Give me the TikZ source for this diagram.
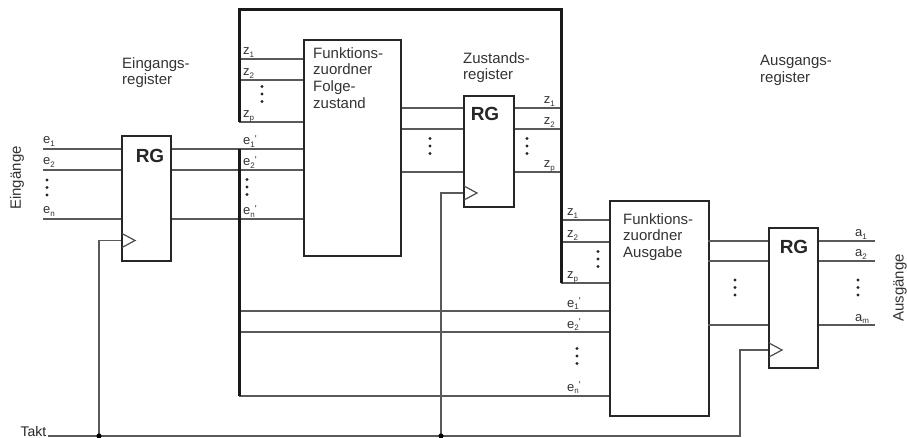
\documentclass[tikz,border=0pt]{standalone}
\usepackage{fontspec}
\setmainfont{Liberation Sans}
\newcommand\sg[2]{#1\raisebox{-2.5pt}{\fontsize{8}{8}\selectfont #2}}
\newcommand\sgp[2]{#1\raisebox{-2.5pt}{\fontsize{8}{8}\selectfont #2}\raisebox{2.5pt}{\fontsize{10}{10}\selectfont\textquotesingle}}
\tikzset{
  box/.style={draw=black!85, line width=2pt, inner sep=0pt, anchor=north west},
  wire/.style={draw=black!65, line width=1.5pt},
  bus/.style={draw=black!90, line width=3pt, line join=miter},
  clk/.style={draw=black!70, line width=1.2pt},
  sig/.style={font=\fontsize{13}{13}\selectfont, inner sep=0pt, text=black!80},
  ttl/.style={font=\fontsize{15}{16.7}\selectfont, align=left, anchor=north west, inner sep=0pt, text=black!80},
  rglbl/.style={font=\fontsize{19}{19}\selectfont\bfseries, inner sep=0pt, text=black!85},
  vdot/.pic={\fill[black!85] (0,-7.5) circle[radius=1.7pt]; \fill[black!85] (0,0) circle[radius=1.7pt]; \fill[black!85] (0,7.5) circle[radius=1.7pt];}
}
\begin{document}
\begin{tikzpicture}[x=1pt,y=-1pt]
\useasboundingbox (0,0) rectangle (907,438);
% boxes
\node[box, minimum width=49pt, minimum height=125pt] (rg1) at (121,135) {};
\node[box, minimum width=97pt, minimum height=216pt] (fz) at (303,39) {};
\node[box, minimum width=50pt, minimum height=111pt] (rg2) at (463,95) {};
\node[box, minimum width=99pt, minimum height=215pt] (fa) at (609,200) {};
\node[box, minimum width=49pt, minimum height=140pt] (rg3) at (768,227) {};
% coordinates
\coordinate (in1) at (43,149);
\coordinate (in2) at (43,170);
\coordinate (inn) at (43,219);
\coordinate (busA) at (239,10);
\coordinate (busB) at (561,10);
\coordinate (fz1) at (239,59);
\coordinate (fz2) at (239,80);
\coordinate (fzp) at (239,122);
\coordinate (q1) at (400,108);
\coordinate (q2) at (400,129);
\coordinate (qp) at (400,172);
\coordinate (fa1) at (561,220);
\coordinate (fa2) at (561,242);
\coordinate (fap) at (561,283);
\coordinate (ea1) at (239,311);
\coordinate (ea2) at (239,332);
\coordinate (ean) at (239,396);
\coordinate (o1) at (708,241);
\coordinate (o2) at (708,261);
\coordinate (om) at (708,325);
\coordinate (out) at (875,0);
\coordinate (takt) at (48,436);
\coordinate (tend) at (740,436);
\coordinate (j1) at (99,436);
\coordinate (j2) at (441,436);
\coordinate (c1) at (122,240.5);
\coordinate (c2) at (464,193);
\coordinate (c3) at (769,350);
% input wires
\foreach \r in {in1,in2,inn}{
  \draw[wire] (\r) -- (\r -| rg1.west);
  \draw[wire] (rg1.east |- \r) -- (fz.west |- \r);
}
% state feedback
\foreach \r in {fz1,fz2,fzp}{ \draw[wire] (\r) -- (fz.west |- \r); }
\foreach \r in {q1,q2,qp}{
  \draw[wire] (fz.east |- \r) -- (rg2.west |- \r);
  \draw[wire] (rg2.east |- \r) -- (busB |- \r);
}
\foreach \r in {fa1,fa2,fap}{ \draw[wire] (\r) -- (fa.west |- \r); }
\foreach \r in {ea1,ea2,ean}{ \draw[wire] (\r) -- (fa.west |- \r); }
\foreach \r in {o1,o2,om}{
  \draw[wire] (\r) -- (rg3.west |- \r);
  \draw[wire] (rg3.east |- \r) -- (out |- \r);
}
% buses
\draw[bus] (fzp) -- (busA) -- (busB) -- (fap);
\draw[bus] (busA |- in1) -- (ean);
% clock
\draw[wire] (takt) -- (tend) -- (tend |- c3) -- ([xshift=-1pt]c3);
\draw[wire] (j1) -- (j1 |- c1) -- ([xshift=-1pt]c1);
\draw[wire] (j2) -- (j2 |- c2) -- ([xshift=-1pt]c2);
\fill[black] (j1) circle[radius=2.6pt];
\fill[black] (j2) circle[radius=2.6pt];
\foreach \c in {c1,c2,c3}{
  \draw[clk] ([yshift=7pt]\c) -- ([xshift=13pt]\c) -- ([yshift=-7pt]\c);
}
% RG labels
\node[rglbl] at (150,156) {RG};
\node[rglbl] at (485,114) {RG};
\node[rglbl] at (794,247) {RG};
% titles
\node[ttl] at (122,57) {Eingangs-\\register};
\node[ttl] at (313,47) {Funktions-\\zuordner\\Folge-\\zustand};
\node[ttl] at (463,52) {Zustands-\\register};
\node[ttl] at (760,55) {Ausgangs-\\register};
\node[ttl] at (623,213) {Funktions-\\zuordner\\Ausgabe};
\node[font=\fontsize{15}{15}\selectfont, text=black!80, rotate=90, inner sep=0pt] at (17,178) {Eingänge};
\node[font=\fontsize{15}{15}\selectfont, text=black!80, rotate=90, inner sep=0pt] at (900,288) {Ausgänge};
\node[font=\fontsize{14}{14}\selectfont, text=black!85, anchor=base east, inner sep=0pt] at (46.5,436) {Takt};
% signal labels
\node[sig, anchor=base west] at (43,144) {\sg{e}{1}};
\node[sig, anchor=base west] at (43,165) {\sg{e}{2}};
\node[sig, anchor=base west] at (43,214) {\sg{e}{n}};
\node[sig, anchor=base west] at (243,55) {\sg{z}{1}};
\node[sig, anchor=base west] at (243,76) {\sg{z}{2}};
\node[sig, anchor=base west] at (243,118) {\sg{z}{p}};
\node[sig, anchor=base west] at (243,145) {\sgp{e}{1}};
\node[sig, anchor=base west] at (243,166) {\sgp{e}{2}};
\node[sig, anchor=base west] at (243,215) {\sgp{e}{n}};
\node[sig, anchor=base east] at (555,104) {\sg{z}{1}};
\node[sig, anchor=base east] at (555,125) {\sg{z}{2}};
\node[sig, anchor=base east] at (555,168) {\sg{z}{p}};
\node[sig, anchor=base west] at (567,216) {\sg{z}{1}};
\node[sig, anchor=base west] at (567,238) {\sg{z}{2}};
\node[sig, anchor=base west] at (567,279) {\sg{z}{p}};
\node[sig, anchor=base west] at (567,307) {\sgp{e}{1}};
\node[sig, anchor=base west] at (567,328) {\sgp{e}{2}};
\node[sig, anchor=base west] at (567,391) {\sgp{e}{n}};
\node[sig, anchor=base west] at (855,237) {\sg{a}{1}};
\node[sig, anchor=base west] at (855,257) {\sg{a}{2}};
\node[sig, anchor=base west] at (855,321) {\sg{a}{m}};
% dots
\foreach \p in {(47,187.5),(247,187),(262,94),(430,146),(527,146),(598,259),(577,356),(735,287.5),(858,287.5)}{
  \pic at \p {vdot};
}
\end{tikzpicture}
\end{document}
